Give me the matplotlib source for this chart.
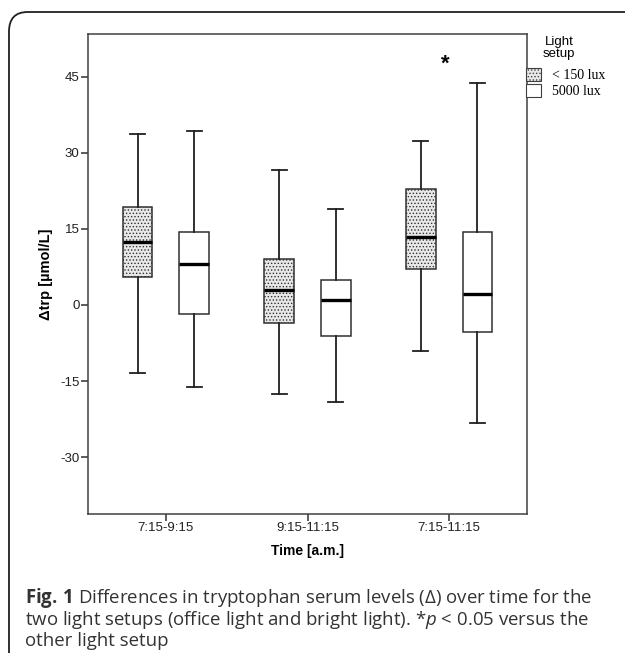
import numpy as np
import matplotlib.pyplot as plt
from matplotlib.patches import FancyBboxPatch, Patch
import matplotlib as mpl

mpl.rcParams['hatch.linewidth'] = 0.6
mpl.rcParams['mathtext.fontset'] = 'custom'
mpl.rcParams['mathtext.rm'] = 'Open Sans'
mpl.rcParams['mathtext.it'] = 'Open Sans:italic'
mpl.rcParams['mathtext.bf'] = 'Open Sans:bold'

# --- data ---
periods = ['7:15-9:15', '9:15-11:15', '7:15-11:15']
groups = ['< 150 lux', '5000 lux']

# per period: [<150 lux, 5000 lux]
whisk_lo = [[-13.4, -16.1], [-17.6, -19.1], [-9.1, -23.3]]
q1 = [[5.6, -1.8], [-3.6, -6.2], [7.0, -5.4]]
med = [[12.4, 8.0], [3.0, 1.0], [13.3, 2.2]]
q3 = [[19.3, 14.4], [9.1, 5.0], [22.8, 14.3]]
whisk_hi = [[33.7, 34.3], [26.6, 19.0], [32.4, 43.7]]

sig_period = 2
sig_y = 47.5

yticks = [-30, -15, 0, 15, 30, 45]

fig = plt.figure(figsize=(6.25, 6.53), dpi=100)
ax = fig.add_axes([88/625, 1 - 514/653, (527-88)/625, (514-34)/653])

stats = []
positions = []
offs = [-0.2, 0.2]
for i in range(len(periods)):
    for g in range(2):
        stats.append(dict(whislo=whisk_lo[i][g], q1=q1[i][g], med=med[i][g],
                          q3=q3[i][g], whishi=whisk_hi[i][g], fliers=[]))
        positions.append(i + offs[g])

bp = ax.bxp(stats, positions=positions, widths=0.21, patch_artist=True,
            showfliers=False,
            boxprops=dict(linewidth=1.1, edgecolor='#303030'),
            whiskerprops=dict(linewidth=1.3, color='#202020'),
            capprops=dict(linewidth=1.3, color='#202020'),
            medianprops=dict(linewidth=2.4, color='black'),
            capwidths=0.105)

for k, box in enumerate(bp['boxes']):
    if k % 2 == 0:
        box.set_facecolor('#e8e8e8')
        box.set_hatch('.....')
        box.set_edgecolor('#303030')
    else:
        box.set_facecolor('white')

ax.text(sig_period - 0.03, sig_y, '*', ha='center', va='center', fontsize=16,
        fontweight='bold', family='Liberation Sans')

ax.set_xlim(-0.55, 2.55)
ax.set_ylim(-41.2, 53.4)
ax.set_xticks(range(len(periods)))
ax.set_xticklabels(periods, family='Liberation Sans', fontsize=9.5, color='#202020')
ax.set_yticks(yticks)
ax.set_yticklabels([str(t) for t in yticks], family='Liberation Sans', fontsize=9.5,
                   color='#202020')
ax.tick_params(length=5, width=1.1, color='#303030', pad=1)
for s in ax.spines.values():
    s.set_linewidth(1.1)
    s.set_color('#404040')

ax.set_ylabel('Δtrp [µmol/L]', family='Liberation Sans', fontweight='bold',
              fontsize=10.5, labelpad=5)
ax.set_xlabel('Time [a.m.]', family='Liberation Sans', fontweight='bold',
              fontsize=10, labelpad=7)

# legend
handles = [Patch(facecolor='#e8e8e8', hatch='.....', edgecolor='#404040', lw=0.8),
           Patch(facecolor='white', edgecolor='#404040', lw=0.8)]
leg = fig.legend(handles, groups, loc='upper left', bbox_to_anchor=(526/625, 1 - 68/653),
                 frameon=False, prop={'family': 'Liberation Serif', 'size': 10},
                 handlelength=1.1, handleheight=1.1, handletextpad=0.8,
                 labelspacing=0.1, borderaxespad=0, borderpad=0)
fig.text(559/625, 1 - 48/653, 'Light\nsetup', ha='center', va='center',
         family='Liberation Sans', fontsize=9.5, linespacing=0.95)

# outer frame with rounded corner
frame = FancyBboxPatch((9/625, -0.1), 1.2, 1 - 12/653 + 0.1,
                       boxstyle='round,pad=0,rounding_size=0.03',
                       transform=fig.transFigure, fill=False, lw=1.3,
                       edgecolor='#202020', clip_on=False)
fig.add_artist(frame)

# caption
cap_kw = dict(family='Open Sans', fontsize=13.4, color='#333333', ha='left', va='center')
fig.text(25/625, 1 - 598/653,
         r'$\mathbf{Fig.\,1}$ Differences in tryptophan serum levels ($\mathit{Δ}$) over time for the',
         **cap_kw)
fig.text(25/625, 1 - 620/653,
         r'two light setups (office light and bright light). *$\mathit{p}$ < 0.05 versus the',
         **cap_kw)
fig.text(25/625, 1 - 641/653, 'other light setup', **cap_kw)

fig.savefig('out.png', dpi=100)
